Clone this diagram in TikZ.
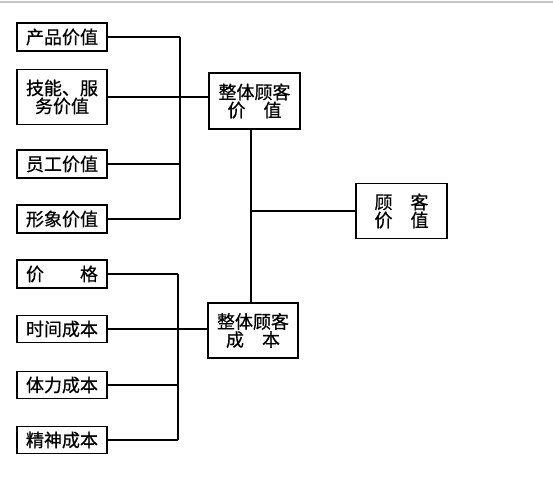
\documentclass[tikz,border=0pt]{standalone}
\usepackage{fontspec}
\newfontfamily\cjk[FakeBold=0.6,BoldFont={Noto Sans CJK SC}]{Noto Sans CJK SC}
\usepackage{tikz}
\usetikzlibrary{calc}

\begin{document}
\begin{tikzpicture}[x=1pt,y=-1pt,line width=1.3pt,
  box/.style={draw,rectangle,inner sep=0pt,minimum width=90pt,minimum height=28pt,
    align=center,font=\cjk\bfseries\fontsize{18}{18}\selectfont}]
\useasboundingbox(0,0)rectangle(553,497);
\draw[gray!45,line width=1.5pt](0,2)--(553,2);
% left column
\node[box](cp)at(62,37){产品价值};
\node[box,minimum height=55pt](js)at(62,97){技能、服\\务价值};
\node[box](yg)at(62,164){员工价值};
\node[box](xx)at(62,219){形象价值};
\node[box](jg)at(62,274){价　　格};
\node[box,minimum height=27pt](sj)at(62,329){时间成本};
\node[box,minimum height=27pt](tl)at(62,385){体力成本};
\node[box,minimum height=27pt](jx)at(62,440){精神成本};
% middle and right
\node[box,minimum width=91pt,minimum height=56pt](zv)at(254.5,101){整体顾客\\价　值};
\node[box,minimum height=55pt](zc)at(253,330.5){整体顾客\\成　本};
\node[box,minimum width=91pt,minimum height=55pt](gk)at(401.5,211){顾　客\\价　值};
\coordinate(a)at(180,0);
\coordinate(b)at(178,0);
\coordinate(t)at(251,211);
\foreach \n in {cp,yg,xx}\draw(\n.east)--(\n.east-|a);
\draw(cp.east-|a)--(xx.east-|a);
\draw(js.east)--(js.east-|zv.west);
\foreach \n in {jg,tl,jx}\draw(\n.east)--(\n.east-|b);
\draw(jg.east-|b)--(jx.east-|b);
\draw(sj.east)--(sj.east-|zc.west);
\draw(zv.south-|t)--(zc.north-|t);
\draw(t)--(gk.west);
\end{tikzpicture}
\end{document}
